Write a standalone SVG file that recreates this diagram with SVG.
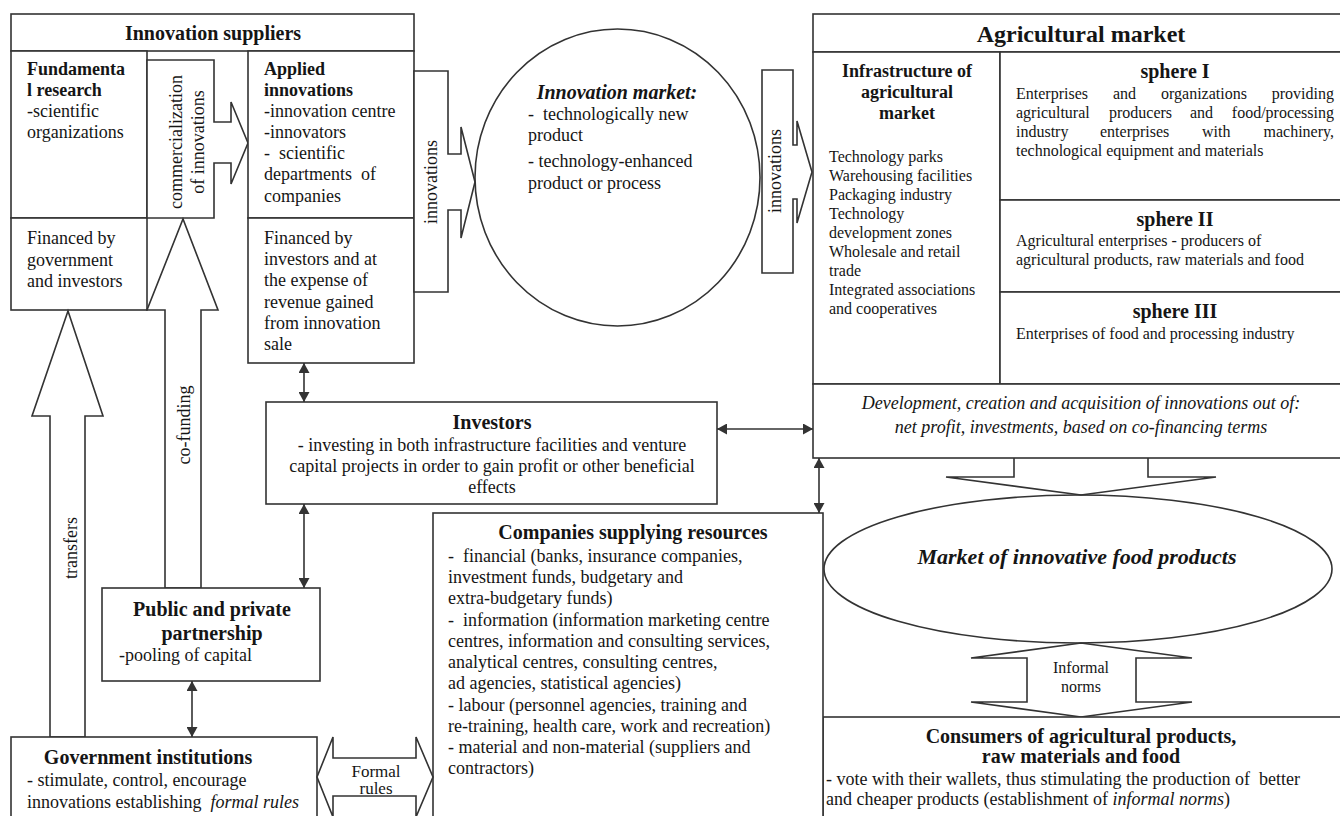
<svg xmlns="http://www.w3.org/2000/svg" width="1340" height="816" viewBox="0 0 1340 816">
<style>
.bx{fill:#fff;stroke:#333;stroke-width:1.6}
.ln{fill:none;stroke:#333;stroke-width:1.6}
.da{fill:none;stroke:#333;stroke-width:1.6;marker-start:url(#ah);marker-end:url(#ah)}
text{font-family:"Liberation Serif","Times New Roman",serif;fill:#151515;font-size:18px}
.b{font-weight:bold}
.i{font-style:italic}
.m{text-anchor:middle}
.s16{font-size:16px}
.s17{font-size:17px}
.s20{font-size:20px}
.s22{font-size:22px}
.s24{font-size:24px}
</style>
<defs>
<marker id="ah" viewBox="0 0 10 11" refX="10" refY="5.5" markerWidth="10" markerHeight="11" markerUnits="userSpaceOnUse" orient="auto-start-reverse">
<path d="M0,0 L10,5.5 L0,11 z" fill="#333"/>
</marker>
</defs>
<rect width="1340" height="816" fill="#fff"/>

<g id="innovation-suppliers">
<rect class="bx" x="11" y="14" width="403" height="37"/>
<text class="b s20 m" x="213" y="40">Innovation suppliers</text>
</g>

<g id="fundamental-research">
<rect class="bx" x="11" y="51" width="136" height="167"/>
<text class="b" x="27" y="75">Fundamenta</text>
<text class="b" x="27" y="96">l research</text>
<text x="27" y="117">-scientific</text>
<text x="27" y="138">organizations</text>
</g>

<g id="fundamental-financing">
<rect class="bx" x="11" y="218" width="136" height="92"/>
<text x="27" y="244">Financed by</text>
<text x="27" y="265.5">government</text>
<text x="27" y="287">and investors</text>
</g>

<g id="commercialization">
<polygon class="bx" points="147,60 214,60 214,122 231,122 231,102 248,143 231,184 231,163 214,163 214,218 147,218"/>
<text class="m" transform="translate(182,142) rotate(-90)">commercialization</text>
<text class="m" transform="translate(204,142) rotate(-90)">of innovations</text>
</g>

<g id="applied-innovations">
<rect class="bx" x="248" y="51" width="166" height="167"/>
<text class="b" x="264" y="75">Applied</text>
<text class="b" x="264" y="96">innovations</text>
<text x="264" y="117">-innovation centre</text>
<text x="264" y="138">-innovators</text>
<text x="264" y="159">-&#160; scientific</text>
<text x="264" y="180">departments&#160; of</text>
<text x="264" y="202">companies</text>
</g>

<g id="applied-financing">
<rect class="bx" x="248" y="218" width="166" height="145"/>
<text x="264" y="244">Financed by</text>
<text x="264" y="265">investors and at</text>
<text x="264" y="286">the expense of</text>
<text x="264" y="308">revenue gained</text>
<text x="264" y="329">from innovation</text>
<text x="264" y="350">sale</text>
</g>

<g id="innovations-arrow-1">
<polygon class="bx" points="414,71 448,71 448,154 461,154 461,127 475,182 461,238 461,210 448,210 448,292 414,292"/>
<text class="m" transform="translate(437,182) rotate(-90)">innovations</text>
</g>

<g id="innovation-market">
<ellipse class="bx" cx="617.5" cy="177.5" rx="142.5" ry="148.5"/>
<text class="b i s20 m" x="617" y="99">Innovation market:</text>
<text x="528" y="120">-&#160; technologically new</text>
<text x="528" y="141">product</text>
<text x="528" y="167">-&#160;technology-enhanced</text>
<text x="528" y="189">product or process</text>
</g>

<g id="innovations-arrow-2">
<polygon class="bx" points="762,70 793,70 793,145 797,145 797,121 812,172 797,223 797,199 793,199 793,273 762,273"/>
<text class="m" transform="translate(781,171) rotate(-90)">innovations</text>
</g>

<g id="agricultural-market">
<rect class="bx" x="813" y="14" width="540" height="38"/>
<text class="b s24 m" x="1081" y="42">Agricultural market</text>
</g>

<g id="infrastructure">
<rect class="bx" x="813" y="52" width="187" height="332"/>
<text class="b m" x="907" y="77">Infrastructure of</text>
<text class="b m" x="907" y="98">agricultural</text>
<text class="b m" x="907" y="119">market</text>
<text class="s16" x="829" y="162">Technology parks</text>
<text class="s16" x="829" y="181">Warehousing facilities</text>
<text class="s16" x="829" y="200">Packaging industry</text>
<text class="s16" x="829" y="219">Technology</text>
<text class="s16" x="829" y="238">development zones</text>
<text class="s16" x="829" y="257">Wholesale and retail</text>
<text class="s16" x="829" y="276">trade</text>
<text class="s16" x="829" y="295">Integrated associations</text>
<text class="s16" x="829" y="314">and cooperatives</text>
</g>

<g id="sphere-1">
<rect class="bx" x="1000" y="52" width="353" height="148"/>
<text class="b s20 m" x="1175" y="78">sphere I</text>
<text class="s16" x="1016" y="99">Enterprises</text>
<text class="s16" x="1113" y="99">and</text>
<text class="s16" x="1161" y="99">organizations</text>
<text class="s16" x="1334" y="99" text-anchor="end">providing</text>
<text class="s16" x="1016" y="118">agricultural</text>
<text class="s16" x="1109" y="118">producers</text>
<text class="s16" x="1190" y="118">and</text>
<text class="s16" x="1334" y="118" text-anchor="end">food/processing</text>
<text class="s16" x="1016" y="137">industry</text>
<text class="s16" x="1100" y="137">enterprises</text>
<text class="s16" x="1202" y="137">with</text>
<text class="s16" x="1334" y="137" text-anchor="end">machinery,</text>
<text class="s16" x="1016" y="156">technological equipment and materials</text>
</g>

<g id="sphere-2">
<rect class="bx" x="1000" y="200" width="353" height="92"/>
<text class="b s20 m" x="1175" y="226">sphere II</text>
<text class="s16" x="1016" y="246">Agricultural enterprises - producers of</text>
<text class="s16" x="1016" y="265">agricultural products, raw materials and food</text>
</g>

<g id="sphere-3">
<rect class="bx" x="1000" y="292" width="353" height="92"/>
<text class="b s20 m" x="1175" y="318">sphere III</text>
<text class="s16" x="1016" y="339">Enterprises of food and processing industry</text>
</g>

<g id="development">
<rect class="bx" x="813" y="384" width="540" height="74"/>
<text class="i m" x="1081" y="409">Development, creation and acquisition of innovations out of:</text>
<text class="i m" x="1081" y="433">net profit, investments, based on co-financing terms</text>
</g>

<g id="market-food-products">
<ellipse class="bx" cx="1078" cy="569" rx="254" ry="74"/>
<text class="b i s22 m" x="1077" y="564">Market of innovative food products</text>
</g>

<g id="informal-norms">
<polygon class="bx" points="1081,643 1192,658 1136,658 1136,702 1192,702 1081,717 971,702 1027,702 1027,658 971,658"/>
<text class="s16 m" x="1081" y="673">Informal</text>
<text class="s16 m" x="1081" y="692">norms</text>
</g>

<g id="consumers">
<rect class="bx" x="823" y="717" width="530" height="120"/>
<text class="b s20 m" x="1081" y="743">Consumers of agricultural products,</text>
<text class="b s20 m" x="1081" y="763">raw materials and food</text>
<text x="826" y="785">- vote with their wallets, thus stimulating the production of&#160; better</text>
<text x="826" y="805">and cheaper products (establishment of <tspan class="i">informal norms</tspan>)</text>
</g>

<g id="investors">
<rect class="bx" x="266" y="402" width="451" height="102"/>
<text class="b s20 m" x="492" y="429">Investors</text>
<text class="m" x="492" y="451">- investing in both infrastructure facilities and venture</text>
<text class="m" x="492" y="472">capital projects in order to gain profit or other beneficial</text>
<text class="m" x="492" y="493">effects</text>
</g>

<g id="companies">
<rect class="bx" x="433" y="513" width="390" height="330"/>
<text class="b s20 m" x="633" y="539">Companies supplying resources</text>
<text x="448" y="562">-&#160; financial (banks, insurance companies,</text>
<text x="448" y="583">investment funds, budgetary and</text>
<text x="448" y="604">extra-budgetary funds)</text>
<text x="448" y="626">-&#160; information (information marketing centre</text>
<text x="448" y="647">centres, information and consulting services,</text>
<text x="448" y="668">analytical centres, consulting centres,</text>
<text x="448" y="689">ad agencies, statistical agencies)</text>
<text x="448" y="711">- labour (personnel agencies, training and</text>
<text x="448" y="732">re-training, health care, work and recreation)</text>
<text x="448" y="753">- material and non-material (suppliers and</text>
<text x="448" y="774">contractors)</text>
</g>

<g id="transfers">
<polygon class="bx" points="50,737 50,416 32,416 68,311 103,416 85,416 85,737"/>
<text class="m" transform="translate(77,548) rotate(-90)">transfers</text>
</g>

<g id="co-funding">
<polygon class="bx" points="165,588 165,310 147,310 183,219 218,310 201,310 201,588"/>
<text class="m" transform="translate(190,425) rotate(-90)">co-funding</text>
</g>

<g id="public-private-partnership">
<rect class="bx" x="102" y="588" width="218" height="93"/>
<text class="b s20 m" x="212" y="616">Public and private</text>
<text class="b s20 m" x="212" y="640">partnership</text>
<text x="119" y="661">-pooling of capital</text>
</g>

<g id="government">
<rect class="bx" x="11" y="737" width="306" height="100"/>
<text class="b s20 m" x="148" y="764">Government institutions</text>
<text x="27" y="786">- stimulate, control, encourage</text>
<text x="27" y="808">innovations establishing&#160; <tspan class="i">formal rules</tspan></text>
</g>

<g id="formal-rules">
<polygon class="bx" points="317,777 333,737 333,758 416,758 416,737 433,777 416,817 416,796 333,796 333,817"/>
<text class="s17 m" x="376" y="777">Formal</text>
<text class="s17 m" x="376" y="794">rules</text>
</g>

<g id="connectors">
<line class="da" x1="304" y1="363" x2="304" y2="402"/>
<line class="da" x1="304" y1="504" x2="304" y2="588"/>
<line class="da" x1="192" y1="681" x2="192" y2="737"/>
<line class="da" x1="717" y1="429" x2="813" y2="429"/>
<line class="da" x1="819" y1="458" x2="819" y2="513"/>
<polyline class="ln" points="1014,458 1014,477 946,477 1081,495 1216,477 1148,477 1148,458"/>
</g>
</svg>
